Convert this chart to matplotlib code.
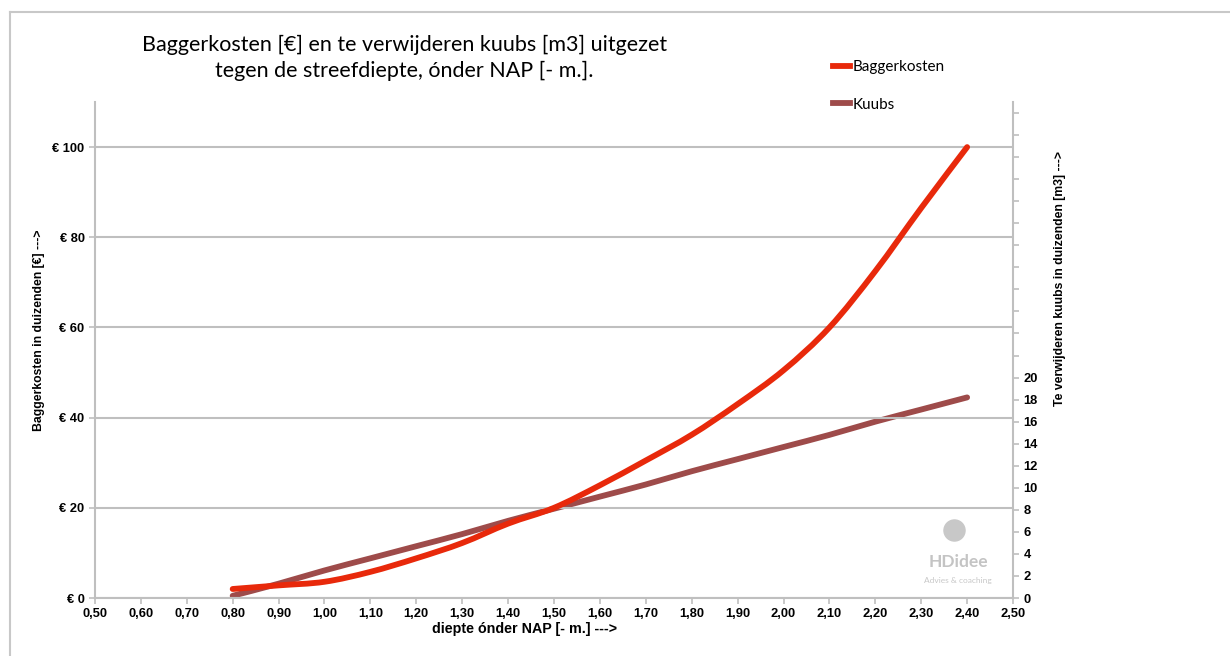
import matplotlib
matplotlib.use("Agg")
import matplotlib.pyplot as plt
from matplotlib.lines import Line2D
from matplotlib.path import Path
from matplotlib.patches import PathPatch
from matplotlib.ticker import FixedLocator, FuncFormatter

plt.rcParams['font.family'] = ['Lato', 'DejaVu Sans']
vet = ['Liberation Sans', 'DejaVu Sans']

# streefdiepte onder NAP [m]
diepte = [0.80, 0.90, 1.00, 1.10, 1.20, 1.30, 1.40, 1.50, 1.60,
          1.70, 1.80, 1.90, 2.00, 2.10, 2.20, 2.30, 2.40]
# baggerkosten in duizenden euro
baggerkosten = [2.0, 2.8, 3.6, 5.8, 8.8, 12.2, 16.5, 20.0, 25.0,
                30.5, 36.2, 43.0, 50.5, 60.0, 72.5, 86.5, 100.0]
# te verwijderen kuubs in duizenden m3
kuubs = [0.2, 1.3, 2.5, 3.6, 4.7, 5.8, 7.0, 8.1, 9.2,
         10.3, 11.5, 12.6, 13.7, 14.8, 16.0, 17.1, 18.2]

x_ticks = [0.5 + 0.1 * i for i in range(21)]
kosten_ticks = [0, 20, 40, 60, 80, 100]
kuubs_ticks = list(range(0, 46, 2))
kuubs_labels_max = 20

rood = '#E8290B'
bruin = '#9E4B4A'
grijs = '#BFBFBF'


def smooth_path(xs, ys):
    # vloeiende lijn zoals in Excel: bezier door de meetpunten
    verts = [(xs[0], ys[0])]
    codes = [Path.MOVETO]
    n = len(xs)
    for i in range(n - 1):
        x0, y0 = xs[max(i - 1, 0)], ys[max(i - 1, 0)]
        x1, y1 = xs[i], ys[i]
        x2, y2 = xs[i + 1], ys[i + 1]
        x3, y3 = xs[min(i + 2, n - 1)], ys[min(i + 2, n - 1)]
        verts += [(x1 + (x2 - x0) / 6, y1 + (y2 - y0) / 6),
                  (x2 - (x3 - x1) / 6, y2 - (y3 - y1) / 6),
                  (x2, y2)]
        codes += [Path.CURVE4] * 3
    return Path(verts, codes)


fig = plt.figure(figsize=(12.3, 6.56), dpi=100)
ax = fig.add_axes([0.0772, 0.0884, 0.7464, 0.7561])
ax2 = ax.twinx()

ax.add_patch(PathPatch(smooth_path(diepte, baggerkosten), fill=False,
                       edgecolor=rood, lw=4.2, capstyle='round',
                       joinstyle='round', zorder=3))
ax2.add_patch(PathPatch(smooth_path(diepte, kuubs), fill=False,
                        edgecolor=bruin, lw=4.2, capstyle='round',
                        joinstyle='round', zorder=2))
ax.set_zorder(ax2.get_zorder() + 1)
ax.patch.set_visible(False)

ax.set_xlim(0.5, 2.5)
ax.set_ylim(0, 110)
ax2.set_ylim(0, 45)

ax.xaxis.set_major_locator(FixedLocator(x_ticks))
ax.xaxis.set_major_formatter(FuncFormatter(lambda v, p: f"{v:.2f}".replace('.', ',')))
ax.yaxis.set_major_locator(FixedLocator(kosten_ticks))
ax.yaxis.set_major_formatter(FuncFormatter(lambda v, p: f"€ {int(round(v))}"))
ax2.yaxis.set_major_locator(FixedLocator(kuubs_ticks))
ax2.yaxis.set_major_formatter(FuncFormatter(
    lambda v, p: f"{int(round(v))}" if v <= kuubs_labels_max else ""))

ax.grid(axis='y', color=grijs, lw=1.5)
ax.set_axisbelow(True)

for a in (ax, ax2):
    for s in a.spines.values():
        s.set_color(grijs)
        s.set_linewidth(1.5)
    a.spines['top'].set_visible(False)
    a.tick_params(colors=grijs, labelcolor='black', length=4, width=1.2,
                  labelsize=9.3)
ax.spines['right'].set_visible(False)
ax2.spines['left'].set_visible(False)
ax2.spines['bottom'].set_visible(False)

fig.canvas.draw()
for lab in ax.get_xticklabels() + ax.get_yticklabels() + ax2.get_yticklabels():
    lab.set_family(vet)
    lab.set_fontweight('bold')

ax.set_xlabel("diepte ónder NAP [- m.] --->", fontsize=10.3, fontweight='bold',
              family=vet)
ax.xaxis.set_label_coords(0.468, -0.048)
ax.set_ylabel("Baggerkosten in duizenden [€] --->", fontsize=8.8,
              fontweight='bold', family=vet)
ax.yaxis.set_label_coords(-0.054, 0.54)
ax2.set_ylabel("Te verwijderen kuubs in duizenden [m3] --->", fontsize=8.8,
               fontweight='bold', family=vet)
ax2.yaxis.set_label_coords(1.045, 0.645)

fig.text(0.329, 0.912, "Baggerkosten [€] en te verwijderen kuubs [m3] uitgezet\n"
         "tegen de streefdiepte, ónder NAP [- m.].", ha='center', va='center',
         fontsize=15.5, linespacing=1.35)

handles = [Line2D([], [], color=rood, lw=4.2),
           Line2D([], [], color=bruin, lw=4.2)]
fig.legend(handles, ["Baggerkosten", "Kuubs"], loc='upper left',
           bbox_to_anchor=(0.672, 0.918), frameon=False, fontsize=11,
           handlelength=1.15, handletextpad=0.15, labelspacing=1.55,
           borderaxespad=0.0)

# watermerk HDidee
ax.scatter([0.936], [0.137], s=230, color='#C8C8C8', transform=ax.transAxes,
           zorder=1)
ax.text(0.94, 0.062, "HDidee", transform=ax.transAxes, ha='center',
        fontsize=12.5, fontweight='bold', color='#C4C4C4')
ax.text(0.94, 0.03, "Advies & coaching", transform=ax.transAxes, ha='center',
        fontsize=6, color='#C8C8C8')

# lichtgrijze rand
fig.add_artist(Line2D([0.008, 1.0], [0.982, 0.982], color='#C8C8C8', lw=1.5))
fig.add_artist(Line2D([0.008, 0.008], [0.0, 0.982], color='#C8C8C8', lw=1.5))

fig.savefig("out.png", dpi=100, facecolor='white')
